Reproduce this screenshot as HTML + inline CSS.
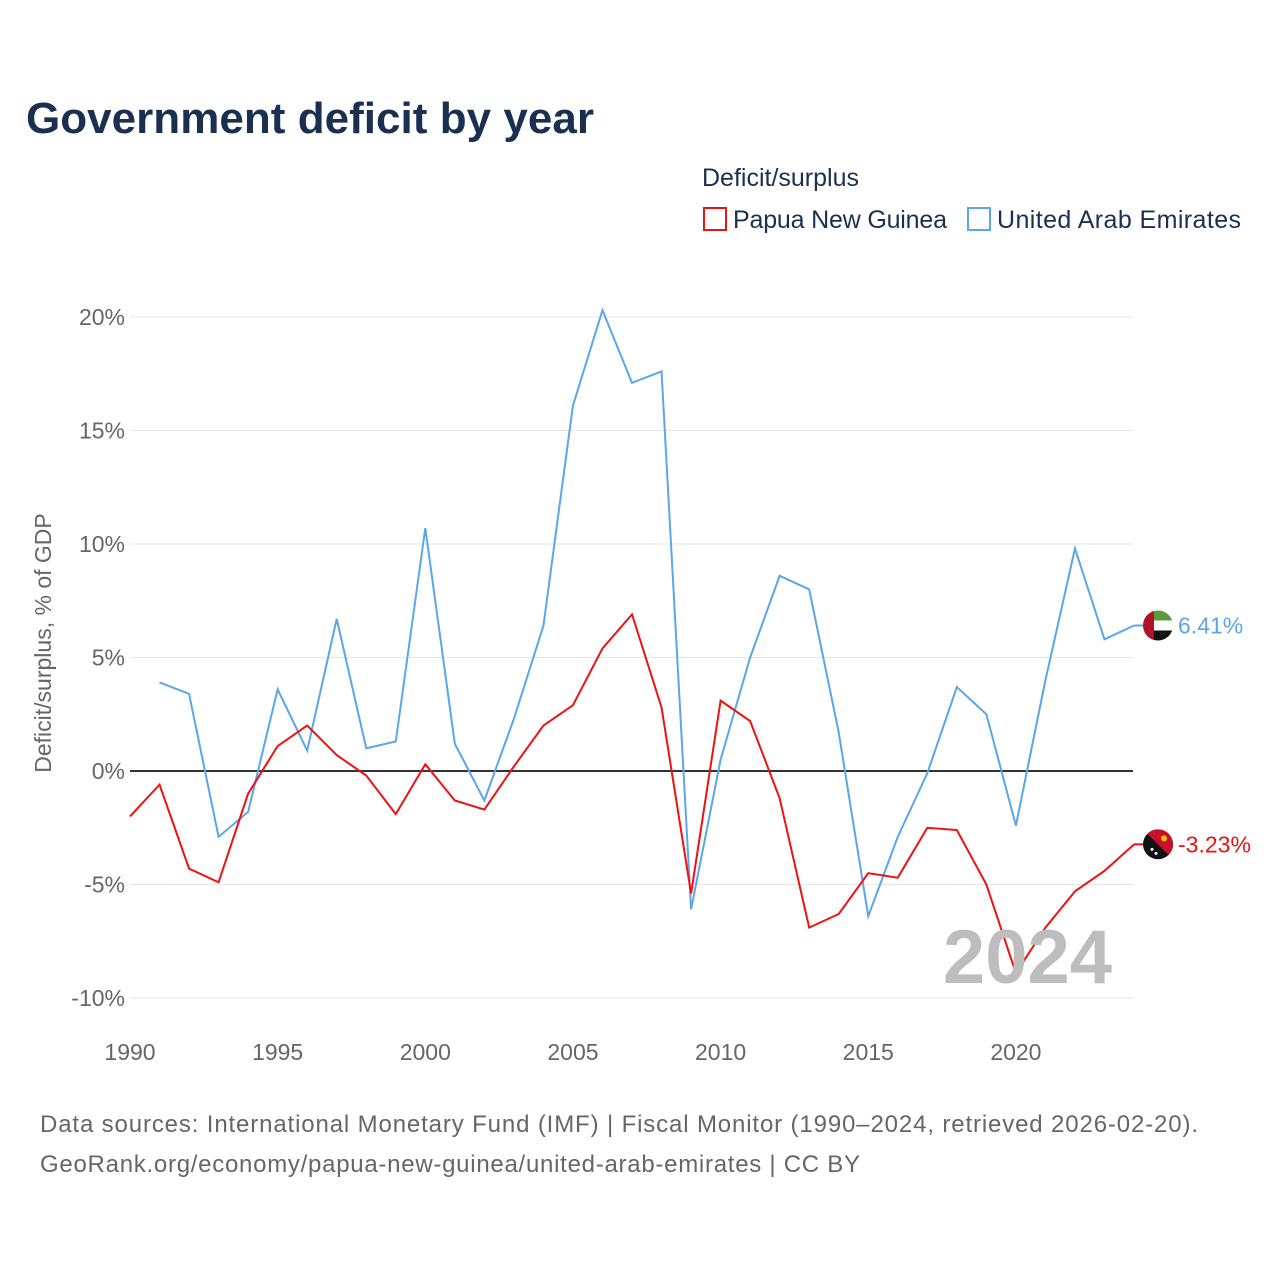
<!DOCTYPE html>
<html><head><meta charset="utf-8"><style>
body{margin:0;background:#fff;font-family:"Liberation Sans",sans-serif;}
#wrap{position:relative;width:1280px;height:1280px;overflow:hidden}
</style></head><body><div id="wrap">
<svg id="chart" width="1280" height="1280" style="position:absolute;left:0;top:0">
<defs>
<clipPath id="cu"><circle cx="1158" cy="624" r="15"/></clipPath>
<clipPath id="cp"><circle cx="1158" cy="844" r="15"/></clipPath>
</defs>
<text x="26" y="133" font-size="44" font-weight="bold" fill="#1a3050" textLength="568">Government deficit by year</text>
<text x="702" y="186" font-size="25" fill="#1a3050">Deficit/surplus</text>
<g><rect x="704" y="208" width="22" height="22" fill="none" stroke="#ee1111" stroke-width="2"/><text x="733" y="228" font-size="25" fill="#1a3050" textLength="214">Papua New Guinea</text></g>
<g><rect x="968" y="208" width="22" height="22" fill="none" stroke="#5aa6e8" stroke-width="2"/><text x="997" y="228" font-size="25" fill="#1a3050" textLength="244">United Arab Emirates</text></g>
<text transform="translate(51,643) rotate(-90)" text-anchor="middle" font-size="23" fill="#666">Deficit/surplus, % of GDP</text>
<g id="grid"></g><g id="lines"></g>
<text x="1112" y="983" text-anchor="end" font-size="76" font-weight="bold" fill="#bdbdbd">2024</text>
<text x="40" y="1132" font-size="24" fill="#666" textLength="1158">Data sources: International Monetary Fund (IMF) | Fiscal Monitor (1990–2024, retrieved 2026-02-20).</text>
<text x="40" y="1172" font-size="24" fill="#666" textLength="820">GeoRank.org/economy/papua-new-guinea/united-arab-emirates | CC BY</text>
</svg>
<script>
const years=[];for(let y=1990;y<=2024;y++)years.push(y);
const png=[-2.0,-0.6,-4.3,-4.9,-1.0,1.1,2.0,0.7,-0.2,-1.9,0.3,-1.3,-1.7,0.2,2.0,2.9,5.4,6.9,2.8,-5.4,3.1,2.2,-1.2,-6.9,-6.3,-4.5,-4.7,-2.5,-2.6,-5.0,-8.9,-6.9,-5.3,-4.4,-3.23];
const uae=[null,3.9,3.4,-2.9,-1.8,3.6,0.9,6.7,1.0,1.3,10.7,1.2,-1.3,2.3,6.4,16.1,20.3,17.1,17.6,-6.1,0.5,5.0,8.6,8.0,1.7,-6.4,-2.9,-0.1,3.7,2.5,-2.4,4.0,9.8,5.8,6.41];
const yTicks=[20,15,10,5,0,-5,-10];
const xTicks=[1990,1995,2000,2005,2010,2015,2020];
const X=y=>130+(y-1990)*29.53, Y=v=>771-v*22.7;
const NS='http://www.w3.org/2000/svg';
const g=document.getElementById('grid'),L=document.getElementById('lines');
function mk(t,a,p){const e=document.createElementNS(NS,t);for(const k in a)e.setAttribute(k,a[k]);p.appendChild(e);return e;}
yTicks.forEach(v=>{const l=mk('line',{x1:130,x2:1133,y1:Y(v),y2:Y(v),stroke:v===0?'#333':'#e6e6e6','stroke-width':v===0?2:1},g);


const t=mk('text',{x:125,y:Y(v)+8,'text-anchor':'end','font-size':23,fill:'#666'},g);t.textContent=v+'%';

});
xTicks.forEach(v=>{const t=mk('text',{x:X(v),y:1060,'text-anchor':'middle','font-size':23,fill:'#666'},g);t.textContent=v;

});
function line(d,c,n){const pts=[];d.forEach((v,i)=>{if(v!==null)pts.push(X(years[i])+','+Y(v));});
const p=mk('polyline',{points:pts.join(' '),fill:'none',stroke:c,'stroke-width':2},L);

}
line(uae,'#5aa6e8','uae-line');line(png,'#ee1111','png-line');
function end(d,c,n,isUae){const v=d[d.length-1],x=X(2024),y=Y(v);
mk('line',{x1:x,x2:x+12,y1:y,y2:y,stroke:c,'stroke-width':2},L);
const fg=mk('g',{transform:'translate(0,'+(y-(isUae?624:844))+')'},L);


const gi=mk('g',{'clip-path':isUae?'url(#cu)':'url(#cp)'},fg);
const cy=isUae?624:844;
if(isUae){mk('rect',{x:1143,y:cy-15,width:30,height:30,fill:'#fff'},gi);
mk('rect',{x:1143,y:cy-15,width:30,height:10,fill:'#5a9a3a'},gi);
mk('rect',{x:1143,y:cy+5,width:30,height:10,fill:'#111'},gi);
mk('rect',{x:1143,y:cy-15,width:11,height:30,fill:'#b0122a'},gi);}
else{mk('rect',{x:1143,y:cy-15,width:30,height:30,fill:'#111'},gi);
mk('polygon',{points:(1143)+','+(cy-15)+' 1173,'+(cy-15)+' 1173,'+(cy+15),fill:'#c8102e'},gi);
mk('circle',{cx:1164,cy:cy-6,r:3,fill:'#f6c700'},gi);
mk('circle',{cx:1152,cy:cy+5,r:1.5,fill:'#fff'},gi);
mk('circle',{cx:1156,cy:cy+9,r:1.5,fill:'#fff'},gi);}
const t=mk('text',{x:x+44,y:y+8,'font-size':23,fill:c},L);t.textContent=v.toFixed(2)+'%';

}
end(uae,'#5aa6e8','uae',true);end(png,'#ee1111','png',false);
</script></div></body></html>
